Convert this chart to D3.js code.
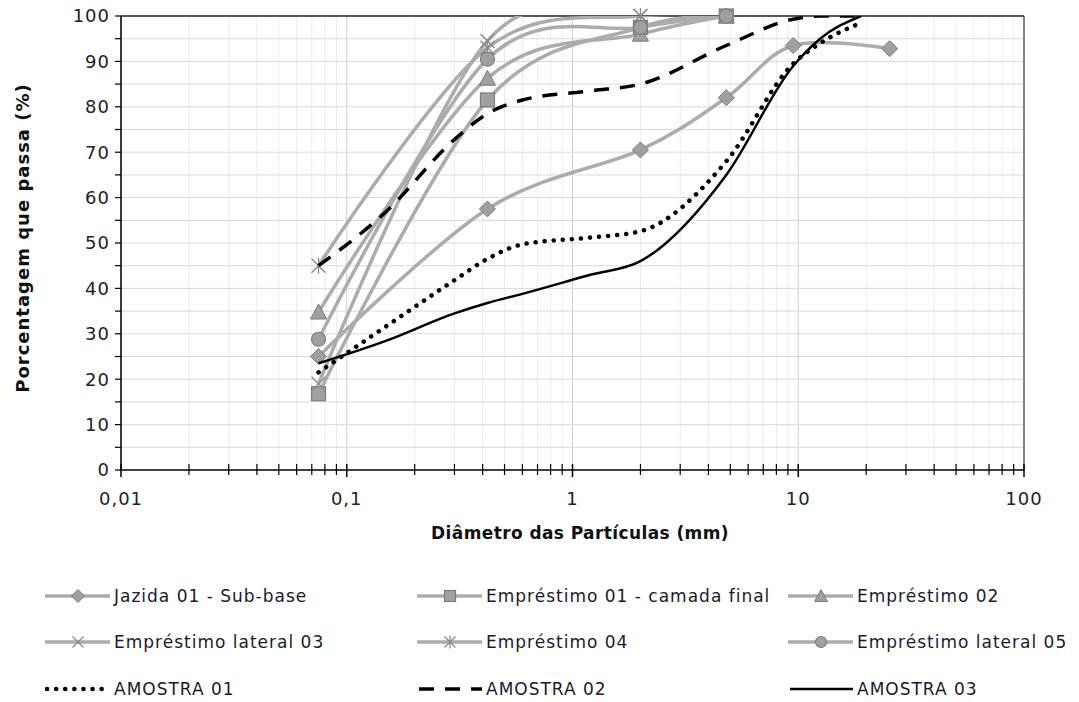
<!DOCTYPE html>
<html>
<head>
<meta charset="utf-8">
<script src="https://cdn.jsdelivr.net/npm/d3@7"></script>
<style>
    body { margin: 0; background: #ffffff; }
    svg { font-family: "DejaVu Sans", Verdana, sans-serif; }
</style>
</head>
<body>
<div id="chart"></div>
<script>
// sieve sizes (mm)
const graySizes = [0.075, 0.42, 2.0, 4.8];
const jazidaSizes = [0.075, 0.42, 2.0, 4.8, 9.5, 25.4];
const amostraSizes = [0.075, 0.15, 0.3, 0.42, 0.6, 1.2, 2.0, 4.8, 9.5, 12.5, 19];

// percent passing
const jazida01 = [25, 57.5, 70.5, 82, 93.5, 92.8];
const emprestimo01 = [16.8, 81.5, 97.5, 100];
const emprestimo02 = [34.8, 86.3, 96, 100];
const emprestimoLateral03 = [19, 94.5, 100, 100];
const emprestimo04 = [45, 93, 100, 100];
const emprestimoLateral05 = [28.8, 90.5, 97.5, 100];
const amostra01 = [21.5, 31.7, 41.8, 46.5, 49.7, 51.2, 52.6, 68, 89.5, 94, 98.5];
const amostra02 = [45, 57, 72.8, 78.5, 81.5, 83.5, 85, 93.5, 99.3, 100, 100];
const amostra03 = [23.5, 28.5, 34.5, 36.8, 38.8, 43, 46, 65, 89, 95, 100];

// axis ticks
const xTickValues = [0.01, 0.1, 1, 10, 100];
const xTickLabels = ["0,01", "0,1", "1", "10", "100"];
const yTickValues = [0, 10, 20, 30, 40, 50, 60, 70, 80, 90, 100];

const width = 1079;
const height = 702;
const margin = { top: 16, right: 55, bottom: 232, left: 121 };

const svg = d3.select("#chart").append("svg")
    .attr("width", width)
    .attr("height", height);

const xScale = d3.scaleLog()
    .domain([0.01, 100])
    .range([margin.left, width - margin.right]);

const yScale = d3.scaleLinear()
    .domain([0, 100])
    .range([height - margin.bottom, margin.top]);

const plotLeft = margin.left, plotRight = width - margin.right;
const plotTop = margin.top, plotBottom = height - margin.bottom;

// minor log values between decades
var minorX = [];
for (var e = -2; e < 2; e++) {
    for (var m = 2; m <= 9; m++) minorX.push(m * Math.pow(10, e));
}

// gridlines
const grid = svg.append("g");
grid.selectAll(".vminor").data(minorX).enter().append("line")
    .attr("x1", d => xScale(d)).attr("x2", d => xScale(d))
    .attr("y1", plotTop).attr("y2", plotBottom)
    .attr("stroke", "#ececec").attr("stroke-width", 1);
grid.selectAll(".vmajor").data(xTickValues).enter().append("line")
    .attr("x1", d => xScale(d)).attr("x2", d => xScale(d))
    .attr("y1", plotTop).attr("y2", plotBottom)
    .attr("stroke", "#cfcfcf").attr("stroke-width", 1);
grid.selectAll(".hgrid").data(d3.range(5, 100, 5)).enter().append("line")
    .attr("x1", plotLeft).attr("x2", plotRight)
    .attr("y1", d => yScale(d)).attr("y2", d => yScale(d))
    .attr("stroke", "#d9d9d9").attr("stroke-width", 1);

// frame top/right
svg.append("line").attr("x1", plotLeft).attr("x2", plotRight)
    .attr("y1", plotTop).attr("y2", plotTop)
    .attr("stroke", "#222").attr("stroke-width", 1.5);
svg.append("line").attr("x1", plotRight).attr("x2", plotRight)
    .attr("y1", plotTop).attr("y2", plotBottom)
    .attr("stroke", "#444").attr("stroke-width", 1.2);

// x axis
const xAxis = svg.append("g");
xAxis.append("line").attr("x1", plotLeft).attr("x2", plotRight)
    .attr("y1", plotBottom).attr("y2", plotBottom)
    .attr("stroke", "#000").attr("stroke-width", 1.5);
xAxis.selectAll(".xminor").data(minorX).enter().append("line")
    .attr("x1", d => xScale(d)).attr("x2", d => xScale(d))
    .attr("y1", plotBottom - 6).attr("y2", plotBottom + 5)
    .attr("stroke", "#000").attr("stroke-width", 1.2);
xAxis.selectAll(".xmajor").data(xTickValues).enter().append("line")
    .attr("x1", d => xScale(d)).attr("x2", d => xScale(d))
    .attr("y1", plotBottom - 6).attr("y2", plotBottom + 7)
    .attr("stroke", "#000").attr("stroke-width", 1.5);
xAxis.selectAll(".xlabel").data(xTickValues).enter().append("text")
    .attr("x", d => xScale(d))
    .attr("y", plotBottom + 35)
    .attr("text-anchor", "middle")
    .attr("font-size", 18)
    .attr("letter-spacing", 1)
    .attr("fill", "#222")
    .text((d, i) => xTickLabels[i]);

// y axis
const yAxis = svg.append("g");
yAxis.append("line").attr("x1", plotLeft).attr("x2", plotLeft)
    .attr("y1", plotTop).attr("y2", plotBottom + 1)
    .attr("stroke", "#000").attr("stroke-width", 1.5);
yAxis.selectAll(".ytick").data(d3.range(0, 101, 5)).enter().append("line")
    .attr("x1", plotLeft - 6).attr("x2", plotLeft)
    .attr("y1", d => yScale(d)).attr("y2", d => yScale(d))
    .attr("stroke", "#000").attr("stroke-width", 1.2);
yAxis.selectAll(".ylabel").data(yTickValues).enter().append("text")
    .attr("x", plotLeft - 11)
    .attr("y", d => yScale(d))
    .attr("dy", "0.36em")
    .attr("text-anchor", "end")
    .attr("font-size", 18)
    .attr("letter-spacing", 1)
    .attr("fill", "#222")
    .text(d => d);

// axis titles
svg.append("text")
    .attr("x", 580).attr("y", 539)
    .attr("text-anchor", "middle")
    .attr("font-size", 17).attr("font-weight", "bold")
    .attr("letter-spacing", 0.4)
    .attr("fill", "#111")
    .text("Diâmetro das Partículas (mm)");
svg.append("text")
    .attr("transform", "translate(29,238) rotate(-90)")
    .attr("text-anchor", "middle")
    .attr("font-size", 18).attr("font-weight", "bold")
    .attr("letter-spacing", 1)
    .attr("fill", "#111")
    .text("Porcentagem que passa (%)");

// clip for the lines
svg.append("clipPath").attr("id", "plotClip")
    .append("rect")
    .attr("x", plotLeft).attr("y", plotTop)
    .attr("width", plotRight - plotLeft).attr("height", plotBottom - plotTop);

// smoothed lines like the spreadsheet ones
const line = d3.line()
    .x(d => xScale(d[0]))
    .y(d => yScale(d[1]))
    .curve(d3.curveCardinal.tension(0));

const blackLine = d3.line()
    .x(d => xScale(d[0]))
    .y(d => yScale(d[1]))
    .curve(d3.curveMonotoneX);

const grayFill = "#a0a0a0";
const grayStroke = "#7c7c7c";
const grayLine = "#acacac";

const graySeries = [
    { name: "Jazida 01 - Sub-base", sizes: jazidaSizes, values: jazida01, marker: "diamond" },
    { name: "Empréstimo 01 - camada final", sizes: graySizes, values: emprestimo01, marker: "square" },
    { name: "Empréstimo 02", sizes: graySizes, values: emprestimo02, marker: "triangle" },
    { name: "Empréstimo lateral 03", sizes: graySizes, values: emprestimoLateral03, marker: "x" },
    { name: "Empréstimo 04", sizes: graySizes, values: emprestimo04, marker: "star" },
    { name: "Empréstimo lateral 05", sizes: graySizes, values: emprestimoLateral05, marker: "circle" }
];

const blackSeries = [
    { name: "AMOSTRA 01", sizes: amostraSizes, values: amostra01, dash: "0.1 9", width: 4.5, cap: "round" },
    { name: "AMOSTRA 02", sizes: amostraSizes, values: amostra02, dash: "15 11", width: 3.5, cap: "butt" },
    { name: "AMOSTRA 03", sizes: amostraSizes, values: amostra03, dash: null, width: 2.5, cap: "butt" }
];

// draws a marker of a given type at (cx, cy)
function drawMarker(g, type, cx, cy, s) {
    var h = s / 2;
    if (type === "diamond") {
        g.append("path")
            .attr("d", `M${cx},${cy - h - 1}L${cx + h + 1},${cy}L${cx},${cy + h + 1}L${cx - h - 1},${cy}Z`)
            .attr("fill", grayFill).attr("stroke", grayStroke).attr("stroke-width", 1);
    } else if (type === "square") {
        g.append("rect")
            .attr("x", cx - h).attr("y", cy - h).attr("width", s).attr("height", s)
            .attr("fill", grayFill).attr("stroke", grayStroke).attr("stroke-width", 1.2);
    } else if (type === "triangle") {
        g.append("path")
            .attr("d", `M${cx},${cy - h - 1}L${cx + h + 1},${cy + h}L${cx - h - 1},${cy + h}Z`)
            .attr("fill", grayFill).attr("stroke", grayStroke).attr("stroke-width", 1);
    } else if (type === "circle") {
        g.append("circle")
            .attr("cx", cx).attr("cy", cy).attr("r", h)
            .attr("fill", grayFill).attr("stroke", grayStroke).attr("stroke-width", 1.2);
    } else if (type === "x") {
        g.append("path")
            .attr("d", `M${cx - h},${cy - h}L${cx + h},${cy + h}M${cx - h},${cy + h}L${cx + h},${cy - h}`)
            .attr("stroke", "#8a8a8a").attr("stroke-width", 1.3);
    } else if (type === "star") {
        g.append("path")
            .attr("d", `M${cx - h},${cy - h}L${cx + h},${cy + h}M${cx - h},${cy + h}L${cx + h},${cy - h}M${cx},${cy - h - 1}L${cx},${cy + h + 1}`)
            .attr("stroke", "#8a8a8a").attr("stroke-width", 1.3);
    }
}

// gray lines
const lineLayer = svg.append("g").attr("clip-path", "url(#plotClip)");
graySeries.forEach(s => {
    const pts = s.sizes.map((d, i) => [d, s.values[i]]);
    lineLayer.append("path")
        .datum(pts)
        .attr("fill", "none")
        .attr("stroke", grayLine)
        .attr("stroke-width", 3.5)
        .attr("d", line);
});

// gray markers
const markerLayer = svg.append("g");
graySeries.forEach(s => {
    s.sizes.forEach((d, i) => {
        drawMarker(markerLayer, s.marker, xScale(d), yScale(s.values[i]), 14);
    });
});

// black lines
const blackLayer = svg.append("g").attr("clip-path", "url(#plotClip)");
blackSeries.forEach(s => {
    const pts = s.sizes.map((d, i) => [d, s.values[i]]);
    blackLayer.append("path")
        .datum(pts)
        .attr("fill", "none")
        .attr("stroke", "#000")
        .attr("stroke-width", s.width)
        .attr("stroke-linecap", s.cap)
        .attr("stroke-dasharray", s.dash)
        .attr("d", blackLine);
});

// legend
const legendCols = [45, 417, 788];
const legendRows = [596, 642, 689];
const legendItems = graySeries.concat(blackSeries);
const legend = svg.append("g");
legendItems.forEach((item, i) => {
    const lx = legendCols[i % 3];
    const ly = legendRows[Math.floor(i / 3)];
    const g = legend.append("g");
    if (item.marker) {
        g.append("line").attr("x1", lx).attr("x2", lx + 65)
            .attr("y1", ly).attr("y2", ly)
            .attr("stroke", grayLine).attr("stroke-width", 3.5);
        drawMarker(g, item.marker, lx + 33, ly, 11);
    } else {
        g.append("line").attr("x1", lx + 2).attr("x2", lx + 65)
            .attr("y1", ly).attr("y2", ly)
            .attr("stroke", "#000").attr("stroke-width", item.width)
            .attr("stroke-linecap", item.cap)
            .attr("stroke-dasharray", item.dash);
    }
    g.append("text")
        .attr("x", lx + 69).attr("y", ly)
        .attr("dy", "0.36em")
        .attr("font-size", 17)
        .attr("letter-spacing", 1)
        .attr("fill", "#1a1a2e")
        .text(item.name);
});
</script>
</body>
</html>
